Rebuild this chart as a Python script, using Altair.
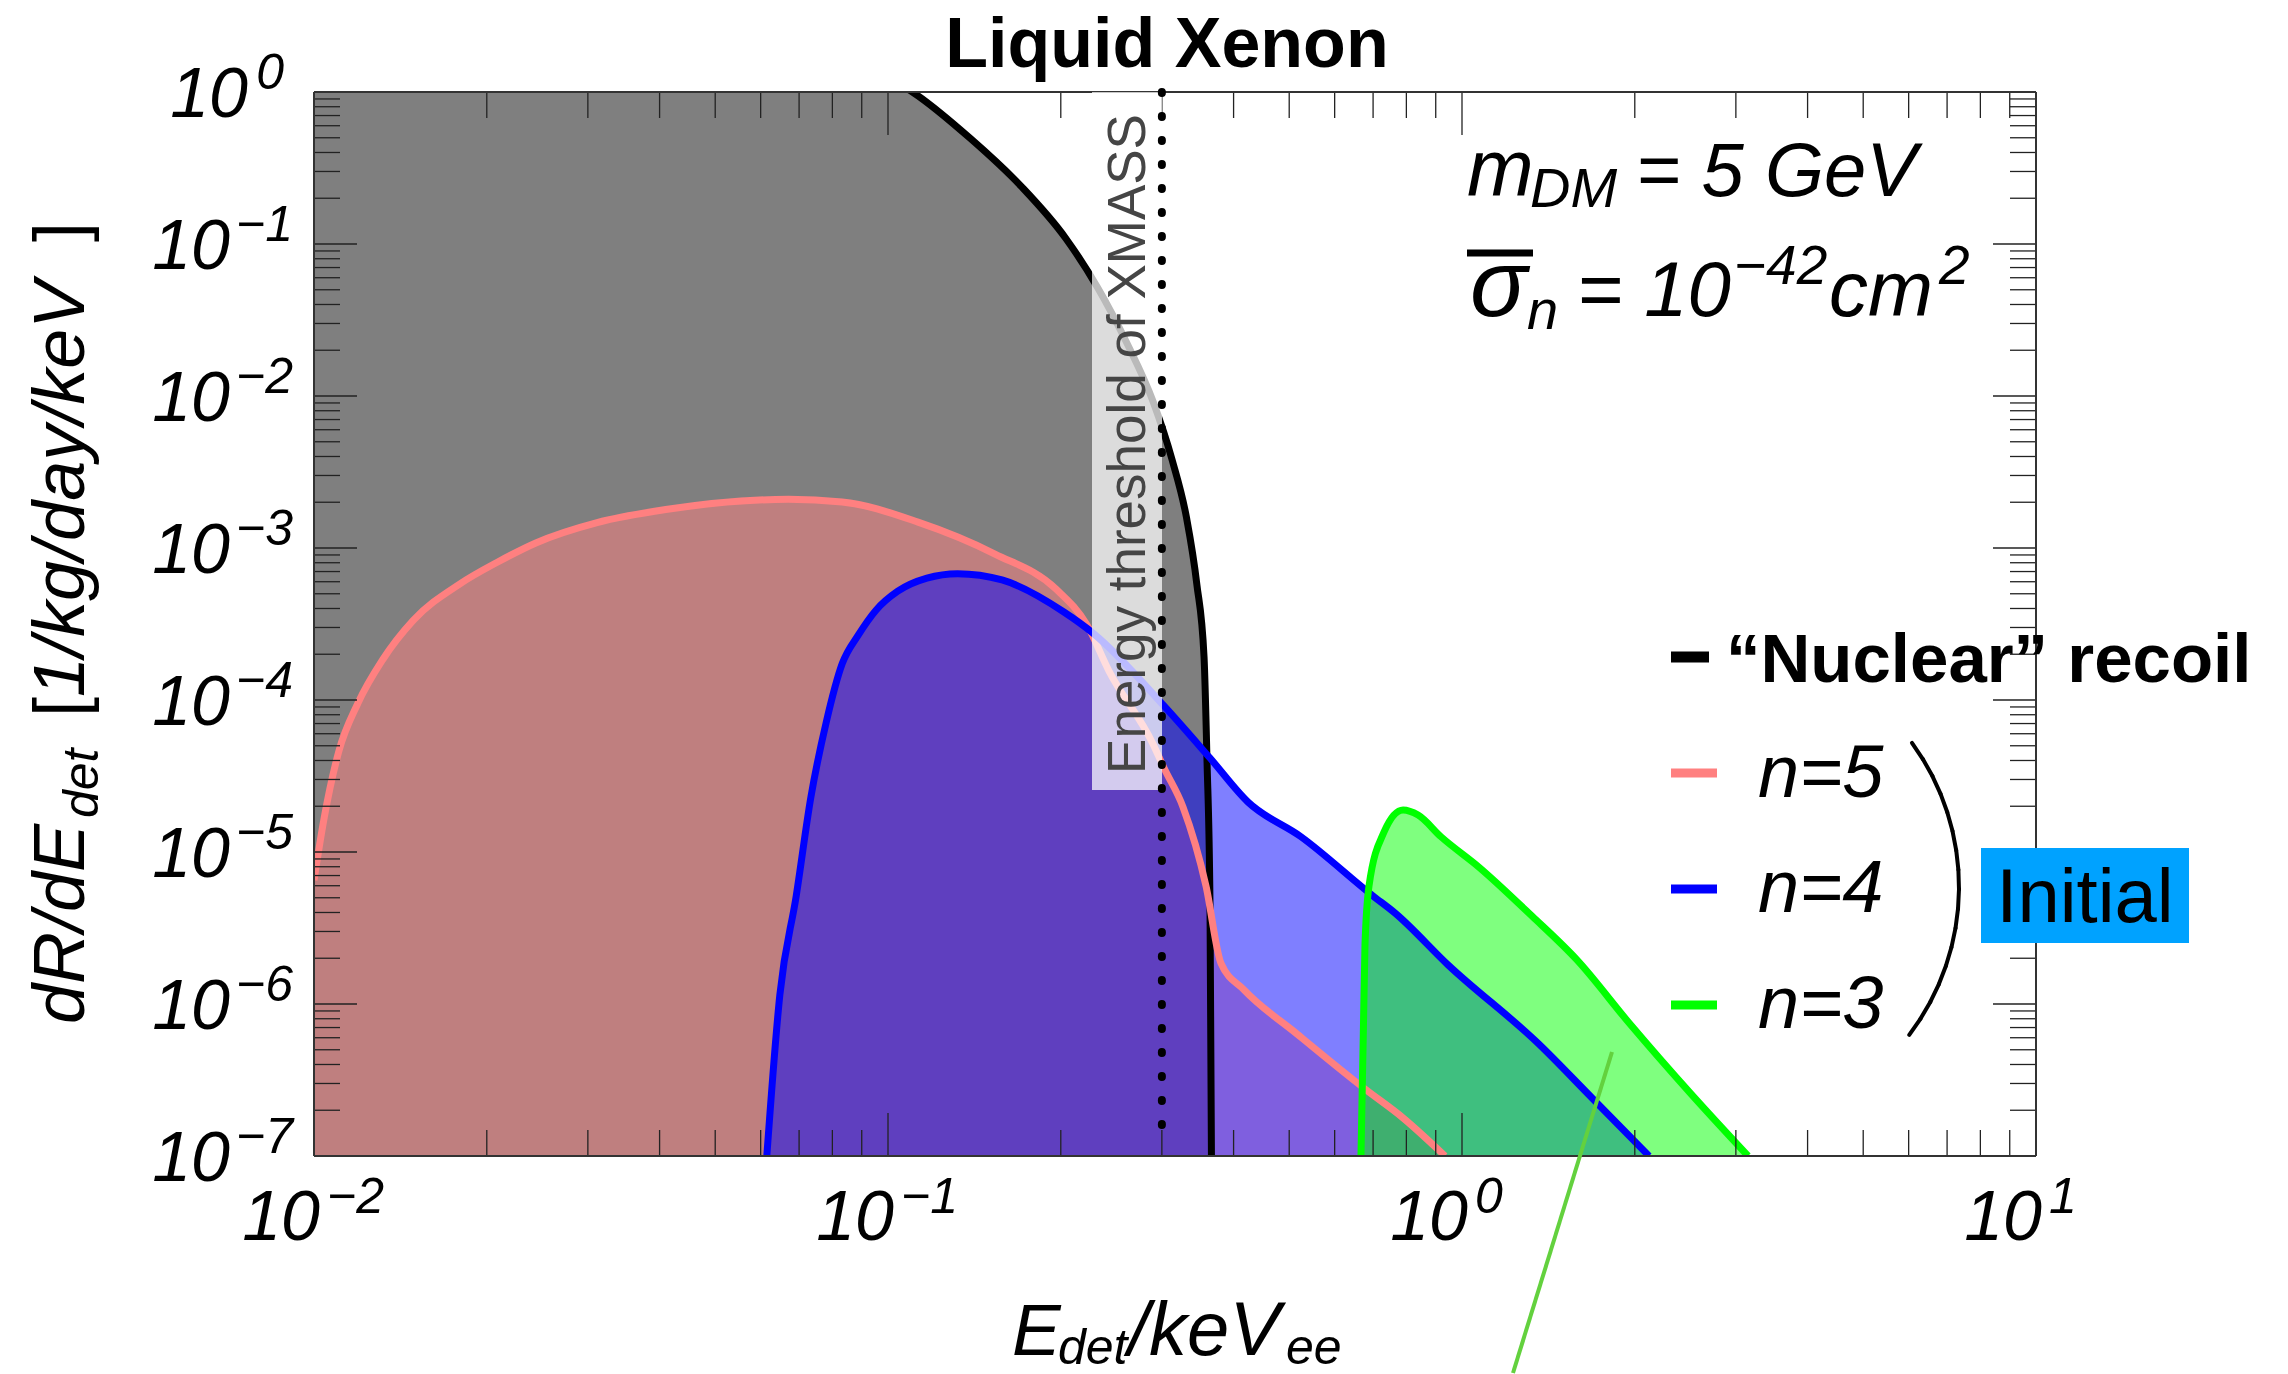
import math
import altair as alt
import pandas as pd

# ------------------------------------------------------------------ data
# E_det [keVee] and dR/dE_det [1/kg/day/keV]
nr_x = [0.0100, 0.0500, 0.0900, 0.1103, 0.1393, 0.1710, 0.2038, 0.2318, 0.2607, 0.2896,
        0.3126, 0.3313, 0.3451, 0.3553, 0.3595, 0.3639, 0.3660]
nr_y = [40.0, 6.0, 1.5, 1.0, 0.493, 0.2375, 0.1096, 0.0517, 0.0223, 9.21e-3,
        3.80e-3, 1.57e-3, 5.81e-4, 1.92e-4, 4.09e-5, 4.48e-6, 1.0e-7]

n5_x = [0.0100, 0.01042, 0.01104, 0.01192, 0.01317, 0.01489, 0.01796, 0.02090, 0.02435,
        0.03113, 0.04100, 0.0671, 0.0832, 0.1128, 0.1536, 0.1962, 0.2222, 0.2427, 0.2895,
        0.3026, 0.3265, 0.3581, 0.3802, 0.4171, 0.5159, 0.6776, 0.7895, 0.9342]
n5_y = [6.53e-6, 1.69e-5, 4.56e-5, 9.48e-5, 1.84e-4, 3.34e-4, 5.81e-4, 8.09e-4, 1.08e-3,
        1.47e-3, 1.79e-3, 2.09e-3, 2.01e-3, 1.48e-3, 9.13e-4, 5.37e-4, 3.11e-4, 1.55e-4, 5.14e-5,
        3.57e-5, 1.98e-5, 5.97e-6, 1.86e-6, 1.24e-6, 6.35e-7, 2.76e-7, 1.78e-7, 1.0e-7]

n4_x = [0.0615, 0.0648, 0.0692, 0.0734, 0.0780, 0.0832, 0.0888, 0.0953, 0.1040, 0.1169,
        0.1322, 0.1580, 0.2025, 0.2285, 0.3026, 0.3639, 0.4239, 0.5242, 0.6998, 0.7642,
        0.9454, 1.361, 1.685, 2.118]
n4_y = [1.0e-7, 1.15e-6, 5.14e-6, 2.30e-5, 7.06e-5, 1.73e-4, 2.68e-4, 3.90e-4, 5.20e-4, 6.34e-4,
        6.78e-4, 6.16e-4, 3.79e-4, 2.72e-4, 9.14e-5, 4.15e-5, 2.13e-5, 1.26e-5, 5.14e-6, 3.97e-6,
        1.81e-6, 5.46e-7, 2.41e-7, 1.0e-7]

n3_x = [0.6668, 0.6776, 0.6886, 0.7312, 0.7895, 0.8385, 0.9192, 1.070, 1.324, 1.586,
        1.962, 2.506, 3.150]
n3_y = [1.0e-7, 2.44e-6, 5.97e-6, 1.35e-5, 1.89e-5, 1.75e-5, 1.26e-5, 7.96e-6, 3.79e-6, 1.95e-6,
        7.38e-7, 2.56e-7, 1.0e-7]

threshold_x = [0.3]
y_floor = 1e-7

x_major = [0.01, 0.1, 1.0, 10.0]
x_exp = ["\u22122", "\u22121", "0", "1"]
x_minor = [m * d for d in (0.01, 0.1, 1.0) for m in range(2, 10)]
y_major = [1e-7, 1e-6, 1e-5, 1e-4, 1e-3, 1e-2, 1e-1, 1.0]
y_exp = ["\u22127", "\u22126", "\u22125", "\u22124", "\u22123", "\u22122", "\u22121", "0"]
y_minor = [m * 10.0 ** e for e in range(-7, 0) for m in range(2, 10)]

# ------------------------------------------------------------------ setup
W, H = 1722, 1064
FONT = "Liberation Sans"
xs = alt.Scale(type="log", domain=[0.01, 10], nice=False)
ys = alt.Scale(type="log", domain=[1e-7, 1], nice=False)
one = pd.DataFrame({"k": [0]})


def sdf(x, y):
    return pd.DataFrame({"x": x, "y": y, "b": [y_floor] * len(x), "i": list(range(len(x)))})


def area(x, y, color):
    return alt.Chart(sdf(x, y)).mark_area(
        color=color, opacity=0.5, interpolate="monotone", clip=True
    ).encode(
        x=alt.X("x:Q", scale=xs, axis=None),
        y=alt.Y("y:Q", scale=ys, axis=None, stack=None),
        y2="b:Q",
    )


def line(x, y, color, w=7):
    return alt.Chart(sdf(x, y)).mark_line(
        color=color, strokeWidth=w, interpolate="monotone", clip=True
    ).encode(
        x=alt.X("x:Q", scale=xs, axis=None),
        y=alt.Y("y:Q", scale=ys, axis=None),
        order="i:Q",
    )


def txt(s, x, y, size, align="left", baseline="alphabetic", **kw):
    return alt.Chart(one).mark_text(
        text=s, fontSize=size, font=FONT, align=align, baseline=baseline, **kw
    ).encode(x=alt.value(x), y=alt.value(y))


def seg(x1, x2, y1, y2, color="black", w=2, **kw):
    return alt.Chart(one).mark_rule(color=color, strokeWidth=w, **kw).encode(
        x=alt.value(x1), x2=alt.value(x2), y=alt.value(y1), y2=alt.value(y2)
    )


layers = []

# fills
layers += [
    area(nr_x, nr_y, "black"),
    area(n5_x, n5_y, "#ff8080"),
    area(n4_x, n4_y, "#0000ff"),
    area(n3_x, n3_y, "#00ff00"),
]
# lines
layers += [
    line(nr_x, nr_y, "black"),
    line(n5_x, n5_y, "#ff8080"),
    line(n4_x, n4_y, "#0000ff"),
    line(n3_x, n3_y, "#00ff00"),
]

# ticks (inward, all four sides)
tick_col = "#222222"
for vals, L in ((x_major, 43), (x_minor, 26)):
    d = pd.DataFrame({"v": vals})
    b = alt.Chart(d).mark_rule(color=tick_col, strokeWidth=1.3)
    layers.append(b.encode(x=alt.X("v:Q", scale=xs, axis=None), y=alt.value(H), y2=alt.value(H - L)))
    layers.append(b.encode(x=alt.X("v:Q", scale=xs, axis=None), y=alt.value(0), y2=alt.value(L)))
for vals, L in ((y_major, 43), (y_minor, 26)):
    d = pd.DataFrame({"v": vals})
    b = alt.Chart(d).mark_rule(color=tick_col, strokeWidth=1.3)
    layers.append(b.encode(y=alt.Y("v:Q", scale=ys, axis=None), x=alt.value(0), x2=alt.value(L)))
    layers.append(b.encode(y=alt.Y("v:Q", scale=ys, axis=None), x=alt.value(W), x2=alt.value(W - L)))

# frame
layers += [
    seg(0, W, 0, 0, color="#333333", w=2),
    seg(0, W, H, H, color="#333333", w=2),
    seg(0, 0, 0, H, color="#333333", w=2),
    seg(W, W, 0, H, color="#333333", w=2),
]

# XMASS threshold box, dotted line and text
layers.append(
    alt.Chart(one).mark_rect(color="white", opacity=0.73).encode(
        x=alt.value(778), x2=alt.value(848), y=alt.value(0), y2=alt.value(698)
    )
)
layers.append(
    alt.Chart(pd.DataFrame({"t": threshold_x, "top": [1.0], "bot": [1.25e-7]})).mark_rule(
        color="black", strokeWidth=8, strokeDash=[1, 23], strokeCap="round"
    ).encode(
        x=alt.X("t:Q", scale=xs, axis=None),
        y=alt.Y("top:Q", scale=ys, axis=None),
        y2="bot:Q",
    )
)
layers.append(
    txt("Energy threshold of XMASS", 831, 352, 53, align="center", angle=270, color="#454545")
)

# axis labels
xl = pd.DataFrame({"v": x_major, "e": x_exp})
layers.append(
    alt.Chart(xl).mark_text(text="10", fontSize=70, font=FONT, fontStyle="italic",
                            align="right", baseline="alphabetic", dx=6)
    .encode(x=alt.X("v:Q", scale=xs, axis=None), y=alt.value(H + 84))
)
layers.append(
    alt.Chart(xl).mark_text(fontSize=50, font=FONT, fontStyle="italic",
                            align="left", baseline="alphabetic", dx=13)
    .encode(x=alt.X("v:Q", scale=xs, axis=None), y=alt.value(H + 57), text="e:N")
)
yl = pd.DataFrame({"v": y_major, "e": y_exp, "zero": [e == "0" for e in y_exp]})
for flt, xe, xb in (("!datum.zero", -21, -84), ("datum.zero", -30, -66)):
    layers.append(
        alt.Chart(yl).transform_filter(flt)
        .mark_text(fontSize=50, font=FONT, fontStyle="italic",
                   align="right", baseline="alphabetic", dy=-3)
        .encode(y=alt.Y("v:Q", scale=ys, axis=None), x=alt.value(xe), text="e:N")
    )
    layers.append(
        alt.Chart(yl).transform_filter(flt)
        .mark_text(text="10", fontSize=70, font=FONT, fontStyle="italic",
                   align="right", baseline="alphabetic", dy=25)
        .encode(y=alt.Y("v:Q", scale=ys, axis=None), x=alt.value(xb))
    )

# axis titles
it = dict(fontStyle="italic")
layers += [
    txt("E", 698, 1263, 73, **it),
    txt("det", 744, 1272, 50, **it),
    txt("/keV", 814, 1263, 76, **it),
    txt("ee", 972, 1272, 50, **it),
    txt("dR/dE", -230, 932, 72, angle=270, **it),
    txt("det", -216, 726, 50, angle=270, **it),
    txt("[", -230, 625, 72, angle=270),
    txt(" 1/kg/day/keV ", -230, 605, 72, angle=270, **it),
    txt("]", -230, 150, 72, angle=270),
]

# title
layers.append(txt("Liquid Xenon", 853, -25, 70, align="center", fontWeight="bold"))

# parameters annotation
layers += [
    txt("m", 1153, 104, 80, **it),
    txt("DM", 1216, 115, 56, **it),
    txt("= 5 GeV", 1322, 104, 76, **it),
    txt("\u03c3", 1156, 224, 95, **it),
    seg(1153, 1219, 161, 161, w=7),
    txt("n", 1213, 237, 56, **it),
    txt("= 10", 1263, 224, 78, **it),
    txt("\u221242", 1420, 192, 55, **it),
    txt("cm", 1515, 224, 78, **it),
    txt("2", 1625, 192, 55, **it),
]

# legend
layers += [
    seg(1357, 1395, 565, 565, color="black", w=11),
    txt("\u201cNuclear\u201d recoil", 1412, 590, 69, fontWeight="bold"),
    seg(1357, 1403, 681, 681, color="#ff8080", w=9),
    txt("n=5", 1444, 705, 74, **it),
    seg(1357, 1403, 797, 797, color="#0000ff", w=9),
    txt("n=4", 1444, 820, 74, **it),
    seg(1357, 1403, 913, 913, color="#00ff00", w=9),
    txt("n=3", 1444, 936, 74, **it),
]
# bracket ")" drawn as short segments along an arc
cx, cy, R = 1400.5, 795.0, 244.5
th = [0.94 + (2.22 - 0.94) * k / 16 for k in range(17)]
pts = [(cx + R * math.sin(t), cy - R * math.cos(t)) for t in th]
for (xa, ya), (xb, yb) in zip(pts[:-1], pts[1:]):
    layers.append(seg(xa, xb, ya, yb, color="black", w=4, strokeCap="round"))

layers.append(
    alt.Chart(one).mark_rect(color="#00a2ff").encode(
        x=alt.value(1667), x2=alt.value(1875), y=alt.value(756), y2=alt.value(851)
    )
)
layers.append(txt("Initial", 1771, 830, 76, align="center"))

# pointer line
layers.append(seg(1298, 1199, 960, 1281, color="#63d13e", w=4))

chart = alt.layer(*layers).properties(
    width=W,
    height=H,
    autosize=alt.AutoSizeParams(type="none"),
    padding={"left": 314, "top": 92, "right": 252, "bottom": 218},
    background="white",
).configure_view(stroke=None)

chart.save("out.html", embed_options={"renderer": "svg", "actions": False})
